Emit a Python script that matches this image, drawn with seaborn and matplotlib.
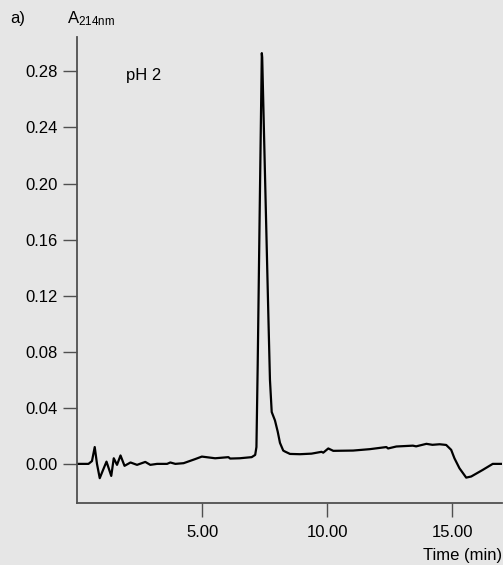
#!/usr/bin/env python
""" Chromatogram trace at pH 2 """

import pandas as pd
import seaborn as sns
import matplotlib
matplotlib.use("Agg")
import matplotlib.pyplot as plt
from matplotlib.ticker import FormatStrFormatter

# retention time (min) and absorbance at 214 nm
time_min = [0, 0.46, 0.6, 0.71, 0.8, 0.91, 1.05, 1.18, 1.37, 1.47, 1.6, 1.74,
            1.9, 2.14, 2.4, 2.73, 2.93, 3.2, 3.6, 3.73, 3.93, 4.26, 4.72, 4.99,
            5.52, 6.05, 6.12, 6.5, 6.98, 7.12, 7.17, 7.22, 7.30, 7.385, 7.40,
            7.52, 7.65, 7.71, 7.78, 7.91, 8.02, 8.11, 8.24, 8.31, 8.51, 8.91,
            9.37, 9.77, 9.84, 10.04, 10.24, 11.03, 11.7, 12.36, 12.43, 12.76,
            13.42, 13.55, 13.96, 14.2, 14.49, 14.75, 14.95, 15.08, 15.28, 15.55,
            15.75, 16.21, 16.61, 17.0]
absorbance = [0, 0, 0.002, 0.012, 0.0, -0.0102, -0.004, 0.0016, -0.0086, 0.004,
              -0.0007, 0.006, -0.0014, 0.001, -0.0007, 0.0014, -0.0007, 0.0,
              0.0, 0.001, 0.0, 0.0005, 0.0034, 0.0052, 0.004, 0.0048, 0.0038,
              0.004, 0.0048, 0.0064, 0.012, 0.07, 0.18, 0.293, 0.29, 0.2,
              0.103, 0.06, 0.037, 0.031, 0.023, 0.015, 0.0095, 0.0088, 0.0071,
              0.0069, 0.0073, 0.0086, 0.008, 0.011, 0.0093, 0.0095, 0.0105,
              0.012, 0.011, 0.0124, 0.013, 0.0125, 0.0143, 0.0136, 0.014,
              0.0135, 0.01, 0.004, -0.0031, -0.0098, -0.009, -0.0043, 0.0, 0.0]

y_ticks = [0.00, 0.04, 0.08, 0.12, 0.16, 0.20, 0.24, 0.28]
x_ticks = [5, 10, 15]

BG = '#e6e6e6'
AXIS = '#505050'


def main():
    sns.set_style("ticks", rc={'axes.facecolor': BG, 'figure.facecolor': BG,
                               'axes.edgecolor': AXIS, 'text.color': 'black',
                               'axes.labelcolor': 'black'})
    plt.rcParams['font.family'] = ['Liberation Sans', 'DejaVu Sans']
    plt.rcParams['mathtext.default'] = 'regular'

    df = pd.DataFrame({'time': time_min, 'abs': absorbance})

    f, ax = plt.subplots(figsize=(5.03, 5.65), dpi=100)
    f.subplots_adjust(left=0.153, right=0.999, bottom=0.11, top=0.9345)

    sns.lineplot(data=df, x='time', y='abs', color='black', linewidth=1.6,
                 estimator=None, sort=False, ax=ax)

    ax.set_xlim(0, 17)
    ax.set_ylim(-0.0278, 0.3045)
    ax.set_yticks(y_ticks)
    ax.set_xticks(x_ticks)
    ax.yaxis.set_major_formatter(FormatStrFormatter('%.2f'))
    ax.xaxis.set_major_formatter(FormatStrFormatter('%.2f'))
    ax.tick_params(direction='out', length=10, width=1.0, color=AXIS,
                   labelcolor='black', labelsize=12, pad=4)
    ax.tick_params(axis='x', pad=6)
    for side in ['top', 'right']:
        ax.spines[side].set_visible(False)
    for side in ['left', 'bottom']:
        ax.spines[side].set_linewidth(1.3)

    ax.set_ylabel('')
    ax.set_xlabel('Time (min)', loc='right', fontsize=12, labelpad=6)

    ax.text(1.94, 0.277, 'pH 2', fontsize=12, va='center', ha='left')
    f.text(0.133, 0.959, r'A$_{214nm}$', fontsize=12, va='baseline')
    f.text(0.02, 0.959, 'a)', fontsize=12, va='baseline')

    f.savefig('out.png', dpi=100, facecolor=BG)
    plt.close(f)


if __name__ == '__main__':
    main()
